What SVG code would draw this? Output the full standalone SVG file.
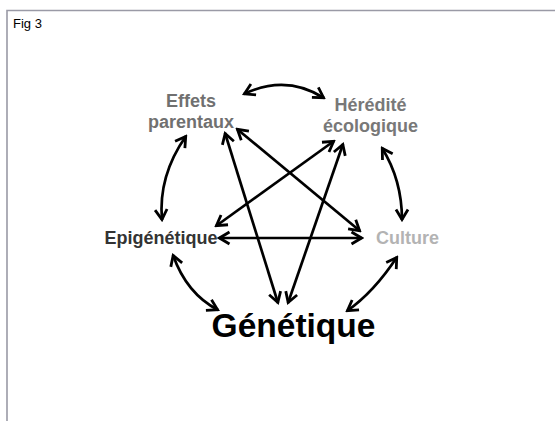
<svg xmlns="http://www.w3.org/2000/svg" width="555" height="421" viewBox="0 0 555 421">
<defs>
<style>
.lbl{font-family:"Liberation Sans",Arial,sans-serif;font-weight:bold;text-anchor:middle}
.con{fill:none;stroke:#000;stroke-width:2.7;marker-start:url(#ah);marker-end:url(#ah)}
</style>
<marker id="ah" viewBox="-13 -8 15 16" refX="0" refY="0" markerWidth="15" markerHeight="16" markerUnits="userSpaceOnUse" orient="auto-start-reverse">
<path d="M-10.5,-6 L-0.5,0 L-10.5,6" fill="none" stroke="#000" stroke-width="2.8"/>
</marker>
</defs>
<rect width="555" height="421" fill="#fff"/>
<path d="M7,421 V10.5 H555" fill="none" stroke="#9a9aa6" stroke-width="1.6"/>
<text x="13" y="28" font-family="Liberation Sans, Arial, sans-serif" font-size="13" fill="#000">Fig 3</text>
<g id="connectors">
<path class="con" d="M244,94 Q286,74 324,98"/>
<path class="con" d="M186,136 Q158,176 162,220"/>
<path class="con" d="M382,148 Q402,180 402,220"/>
<path class="con" d="M173,255 Q186.5,293.5 218,310"/>
<path class="con" d="M397,257 Q374,292 347,311"/>
<path class="con" d="M225,133 L278,303"/>
<path class="con" d="M237,129 L360,231"/>
<path class="con" d="M334,141 L216,226"/>
<path class="con" d="M343,144 L288,303"/>
<path class="con" d="M219,238 L362,238"/>
</g>
<g id="effets-parentaux">
<text class="lbl" x="191" y="107" font-size="18" fill="#707070">Effets</text>
<text class="lbl" x="191" y="128" font-size="18" fill="#707070">parentaux</text>
</g>
<g id="heredite-ecologique">
<text class="lbl" x="370.5" y="110.5" font-size="18" fill="#787878">Hérédité</text>
<text class="lbl" x="370.5" y="131.5" font-size="18" fill="#787878">écologique</text>
</g>
<g id="epigenetique">
<text class="lbl" x="161" y="243.5" font-size="18" fill="#333">Epigénétique</text>
</g>
<g id="culture">
<text class="lbl" x="407.5" y="243.5" font-size="18" fill="#b3b3b3">Culture</text>
</g>
<g id="genetique">
<text class="lbl" x="293.5" y="337" font-size="33.5" fill="#000">Génétique</text>
</g>
</svg>
